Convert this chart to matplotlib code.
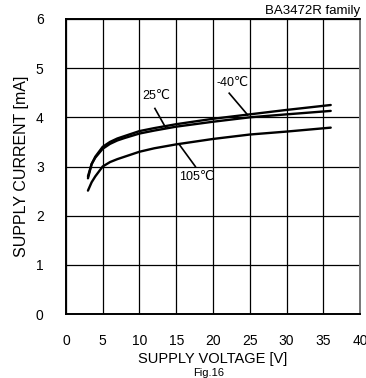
import numpy as np
import matplotlib.pyplot as plt

plt.rcParams['font.family'] = ['Liberation Sans', 'DejaVu Sans']

# Supply current vs supply voltage
voltage = [3, 3.5, 4, 5, 6, 7, 8, 10, 12, 15, 20, 25, 30, 36]
i_m40 = [2.76, 3.05, 3.2, 3.4, 3.5, 3.57, 3.62, 3.72, 3.78, 3.86, 3.97, 4.06, 4.15, 4.25]
i_25 = [2.80, 3.05, 3.18, 3.36, 3.46, 3.53, 3.58, 3.67, 3.73, 3.81, 3.91, 4.00, 4.06, 4.13]
i_105 = [2.51, 2.68, 2.80, 3.00, 3.09, 3.15, 3.20, 3.30, 3.37, 3.45, 3.56, 3.65, 3.71, 3.79]

fig = plt.figure(figsize=(3.66, 3.78), dpi=100, facecolor='white')
ax = fig.add_axes([0.180, 0.169, 0.804, 0.781])

for cur in (i_m40, i_25, i_105):
    ax.plot(voltage, cur, color='black', linewidth=1.7, solid_capstyle='round')

# labels with leader lines
ax.plot([12.1, 13.6], [4.18, 3.78], color='black', linewidth=1.2)
ax.text(12.3, 4.43, '25℃', fontsize=9, ha='center', va='center')
ax.plot([22.2, 24.7], [4.49, 4.05], color='black', linewidth=1.2)
ax.text(22.6, 4.70, '-40℃', fontsize=9, ha='center', va='center')
ax.plot([15.4, 17.6], [3.45, 3.0], color='black', linewidth=1.2)
ax.text(17.8, 2.79, '105℃', fontsize=9, ha='center', va='center')

ax.set_xlim(0, 40)
ax.set_ylim(0, 6)
ax.set_xticks(range(0, 41, 5))
ax.set_yticks(range(0, 7))
ax.grid(True, color='black', linewidth=0.9)
ax.tick_params(length=0, labelsize=10, pad=14)
ax.tick_params(axis='y', pad=16)
for s in ax.spines.values():
    s.set_linewidth(1.4)
    s.set_color('black')
ax.spines['right'].set_color('#777777')

ax.set_xlabel('SUPPLY VOLTAGE [V]', fontsize=10.5, labelpad=3)
ax.set_ylabel('SUPPLY CURRENT [mA]', fontsize=11.5, labelpad=5)
fig.text(0.984, 0.972, 'BA3472R family', fontsize=9.5, ha='right', va='center')
fig.text(0.57, 0.0, 'Fig.16', fontsize=8, ha='center', va='bottom')

fig.savefig('out.png', dpi=100)
